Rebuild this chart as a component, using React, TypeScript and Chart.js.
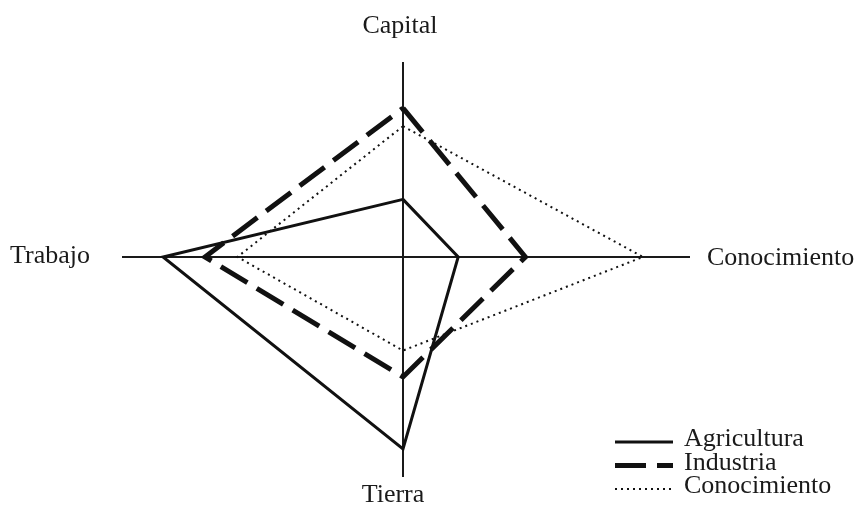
import React, { useEffect, useRef } from 'react';
import { Chart, registerables } from 'chart.js';

Chart.register(...registerables);

// Axis names in drawing order: up, right, down, left
const AXIS_LABELS = ['Capital', 'Conocimiento', 'Tierra', 'Trabajo'];
const SERIES_NAMES = ['Agricultura', 'Industria', 'Conocimiento'];
// values per axis: Capital, Conocimiento, Tierra, Trabajo
const agricultura = [2.4, 2.3, 8.0, 10.0];
const industria = [6.2, 5.1, 5.0, 8.25];
const conocimiento = [5.45, 10.0, 3.9, 6.9];
// visible extent of the axes
const X_RANGE = [-11.71, 11.96];
const Y_RANGE = [-9.17, 8.125];

const DIRS = [
  [0, 1],
  [1, 0],
  [0, -1],
  [-1, 0],
];

function toPolygon(vals: number[]) {
  const pts = vals.map((v, i) => ({ x: DIRS[i][0] * v + 0, y: DIRS[i][1] * v + 0 }));
  pts.push({ ...pts[0] });
  return pts;
}

const FONT = '26px "Liberation Serif", "Times New Roman", serif';
const INK = '#1a1a1a';

const labelsPlugin = {
  id: 'axisLabelsAndLegend',
  afterDraw(chart: any) {
    const { ctx, chartArea, scales } = chart;
    const cx = scales.x.getPixelForValue(0);
    const cy = scales.y.getPixelForValue(0);
    ctx.save();
    ctx.font = FONT;
    ctx.fillStyle = INK;
    ctx.textBaseline = 'alphabetic';
    ctx.textAlign = 'center';
    ctx.fillText(AXIS_LABELS[0], cx - 3, chartArea.top - 29);
    ctx.textAlign = 'left';
    ctx.fillText(AXIS_LABELS[1], chartArea.right + 17, cy + 8);
    ctx.textAlign = 'center';
    ctx.fillText(AXIS_LABELS[2], cx - 10, chartArea.bottom + 25);
    ctx.textAlign = 'right';
    ctx.fillText(AXIS_LABELS[3], chartArea.left - 32, cy + 6);

    // legend
    const lx = chartArea.right - 75;
    const len = 58;
    const baseY = chartArea.bottom - 31;
    const rowH = 23.5;
    chart.data.datasets.forEach((ds: any, i: number) => {
      const by = baseY + i * rowH;
      ctx.save();
      ctx.strokeStyle = ds.borderColor;
      ctx.lineWidth = ds.borderWidth;
      ctx.setLineDash(ds.borderDash || []);
      ctx.beginPath();
      ctx.moveTo(lx, by - 4);
      ctx.lineTo(lx + len, by - 4);
      ctx.stroke();
      ctx.restore();
      ctx.textAlign = 'left';
      ctx.fillText(ds.label, lx + len + 11, by);
    });
    ctx.restore();
  },
};

const axisGrid = {
  drawTicks: false,
  lineWidth: 2,
  color: (c: any) => (c.tick && Math.abs(c.tick.value) < 1e-9 ? INK : 'rgba(0,0,0,0)'),
};

export default function App() {
  const ref = useRef<HTMLCanvasElement>(null);
  useEffect(() => {
    if (!ref.current) return;
    const chart = new Chart(ref.current, {
      type: 'scatter',
      data: {
        datasets: [
          {
            label: SERIES_NAMES[0],
            data: toPolygon(agricultura),
            showLine: true,
            borderColor: '#111',
            borderWidth: 3,
            borderDash: [],
            pointRadius: 0,
            borderJoinStyle: 'miter',
            tension: 0,
          },
          {
            label: SERIES_NAMES[1],
            data: toPolygon(industria),
            showLine: true,
            borderColor: '#111',
            borderWidth: 5,
            borderDash: [31, 11],
            pointRadius: 0,
            borderJoinStyle: 'miter',
            tension: 0,
          },
          {
            label: SERIES_NAMES[2],
            data: toPolygon(conocimiento),
            showLine: true,
            borderColor: '#111',
            borderWidth: 2,
            borderDash: [2, 4],
            pointRadius: 0,
            borderJoinStyle: 'miter',
            tension: 0,
          },
        ],
      } as any,
      options: {
        responsive: false,
        animation: false,
        layout: { padding: { left: 122, right: 170, top: 62, bottom: 28 } },
        plugins: { legend: { display: false }, tooltip: { enabled: false } },
        scales: {
          x: {
            type: 'linear',
            min: X_RANGE[0],
            max: X_RANGE[1],
            ticks: { display: false },
            grid: axisGrid as any,
            border: { display: false },
          },
          y: {
            type: 'linear',
            min: Y_RANGE[0],
            max: Y_RANGE[1],
            ticks: { display: false },
            grid: axisGrid as any,
            border: { display: false },
          },
        },
      },
      plugins: [labelsPlugin],
    });
    return () => chart.destroy();
  }, []);
  return (
    <div style={{ position: 'absolute', left: 0, top: 0, width: 860, height: 505, background: '#fff' }}>
      <canvas ref={ref} width={860} height={505} />
    </div>
  );
}
